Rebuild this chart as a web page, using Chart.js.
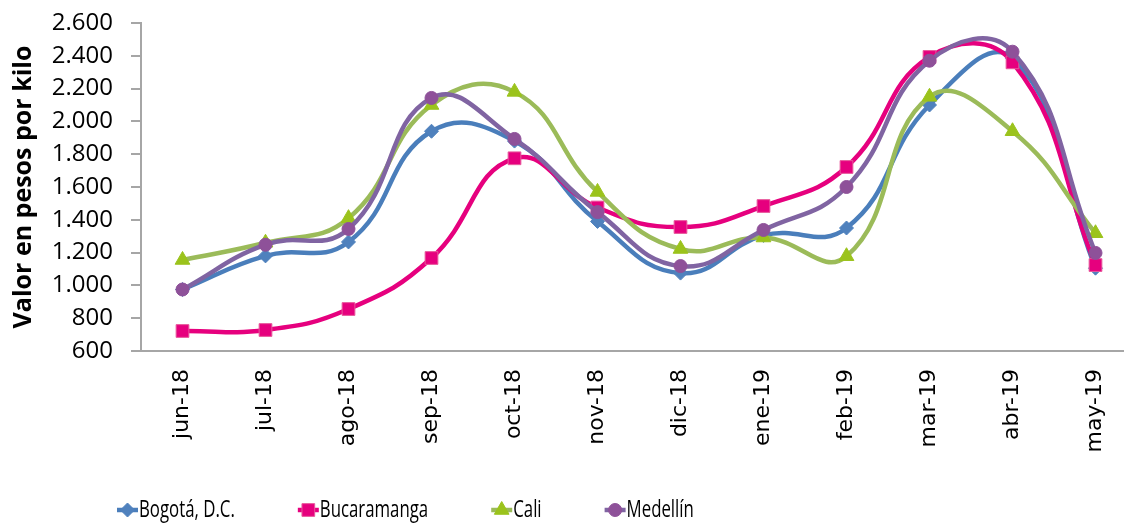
<!DOCTYPE html>
<html>
<head>
<meta charset="utf-8">
<script src="https://cdn.jsdelivr.net/npm/chart.js"></script>
<style>
html, body { margin: 0; padding: 0; background: #fff; overflow: hidden; }
#wrap { width: 1147px; height: 523px; position: relative; }
</style>
</head>
<body>
<div id="wrap"><canvas id="myChart"></canvas></div>
<script>
let meses = ['jun-18', 'jul-18', 'ago-18', 'sep-18', 'oct-18', 'nov-18', 'dic-18', 'ene-19', 'feb-19', 'mar-19', 'abr-19', 'may-19'];
let ciudades = ['Bogotá, D.C.', 'Bucaramanga', 'Cali', 'Medellín'];
let bogota = [975, 1180, 1265, 1940, 1880, 1390, 1075, 1305, 1350, 2100, 2385, 1105];
let bucaramanga = [722, 728, 856, 1167, 1775, 1475, 1356, 1484, 1722, 2393, 2360, 1124];
let cali = [1155, 1260, 1410, 2100, 2180, 1570, 1222, 1292, 1178, 2150, 1940, 1318];
let medellin = [975, 1248, 1344, 2143, 1893, 1447, 1118, 1338, 1600, 2370, 2425, 1198];

let series = [bogota, bucaramanga, cali, medellin];
let lineColors = ['#4a7ebb', '#e6007e', '#9bbb59', '#8064a2'];
let markerColors = ['#4f81bd', '#e6007e', '#9bc31c', '#8e5199'];
let markerBorders = ['#4f81bd', '#e8589c', '#9bc31c', '#8e5199'];
let markers = ['rectRot', 'rect', 'triangle', 'circle'];
let markerSizes = [7, 9, 8.5, 6.5];

let datasets = [];
for (let i = 0; i < series.length; i++) {
    datasets.push({
        label: ciudades[i],
        data: series[i],
        borderColor: lineColors[i],
        borderWidth: 4.5,
        backgroundColor: markerColors[i],
        pointStyle: markers[i],
        pointRadius: markerSizes[i],
        pointBackgroundColor: markerColors[i],
        pointBorderColor: markerBorders[i],
        pointBorderWidth: 1,
        tension: 0.45,
        fill: false,
        order: series.length - i
    });
}

// legend with line + marker, drawn below the month labels (text squeezed like the original)
const lineLegend = {
    id: 'lineLegend',
    afterDraw(chart) {
        const ctx = chart.ctx;
        ctx.save();
        ctx.font = "24px 'Open Sans', sans-serif";
        ctx.textBaseline = 'middle';
        let squeeze = 0.7;
        let x = 117, y = 510;
        chart.data.datasets.forEach(ds => {
            ctx.strokeStyle = ds.borderColor;
            ctx.lineWidth = 4.5;
            ctx.beginPath();
            ctx.moveTo(x, y);
            ctx.lineTo(x + 21, y);
            ctx.stroke();
            ctx.fillStyle = ds.pointBackgroundColor;
            ctx.strokeStyle = ds.pointBorderColor;
            ctx.lineWidth = 1;
            Chart.helpers.drawPoint(ctx, {pointStyle: ds.pointStyle, radius: ds.pointRadius, borderWidth: 1, rotation: 0}, x + 10.5, y);
            ctx.fillStyle = '#000';
            ctx.save();
            ctx.translate(x + 22, y);
            ctx.scale(squeeze, 1);
            ctx.fillText(ds.label, 0, 0);
            ctx.restore();
            x = x + 22 + ctx.measureText(ds.label).width * squeeze + 63;
        });
        ctx.restore();
    }
};

var ctx = document.getElementById('myChart').getContext('2d');
var myChart = new Chart(ctx, {
    type: 'line',
    data: {
        labels: meses,
        datasets: datasets
    },
    options: {
        responsive: true,
        maintainAspectRatio: false,
        animation: false,
        layout: { padding: { top: 23, right: 0, bottom: 0, left: 0 } },
        plugins: {
            legend: { display: false },
            tooltip: { enabled: false }
        },
        scales: {
            x: {
                offset: true,
                afterFit: function (scale) {
                    scale.height = 172;
                    scale.paddingLeft = 0;
                    scale.paddingRight = 0;
                },
                grid: { display: false, drawTicks: false, offset: true },
                border: { display: true, color: '#a6a6a6', width: 2 },
                ticks: {
                    autoSkip: false,
                    maxRotation: 90,
                    minRotation: 90,
                    padding: 18,
                    color: '#000',
                    font: { family: "'DejaVu Sans', sans-serif", size: 22 }
                }
            },
            y: {
                min: 600,
                max: 2600,
                afterFit: function (scale) {
                    scale.width = 141;
                    scale.paddingTop = 0;
                    scale.paddingBottom = 0;
                },
                grid: { display: true, drawOnChartArea: false, drawTicks: true, tickLength: 10, color: '#a6a6a6', lineWidth: 2 },
                border: { display: true, color: '#a6a6a6', width: 2 },
                ticks: {
                    stepSize: 200,
                    padding: 18,
                    color: '#000',
                    font: { family: "'Open Sans', sans-serif", size: 24 },
                    callback: v => v.toString().replace(/\B(?=(\d{3})+(?!\d))/g, '.')
                },
                title: {
                    display: true,
                    text: 'Valor en pesos por kilo',
                    color: '#000',
                    padding: { top: 9, bottom: 0 },
                    font: { family: "'Open Sans', sans-serif", size: 25, weight: 'bold' }
                }
            }
        }
    },
    plugins: [lineLegend]
});
</script>
</body>
</html>
